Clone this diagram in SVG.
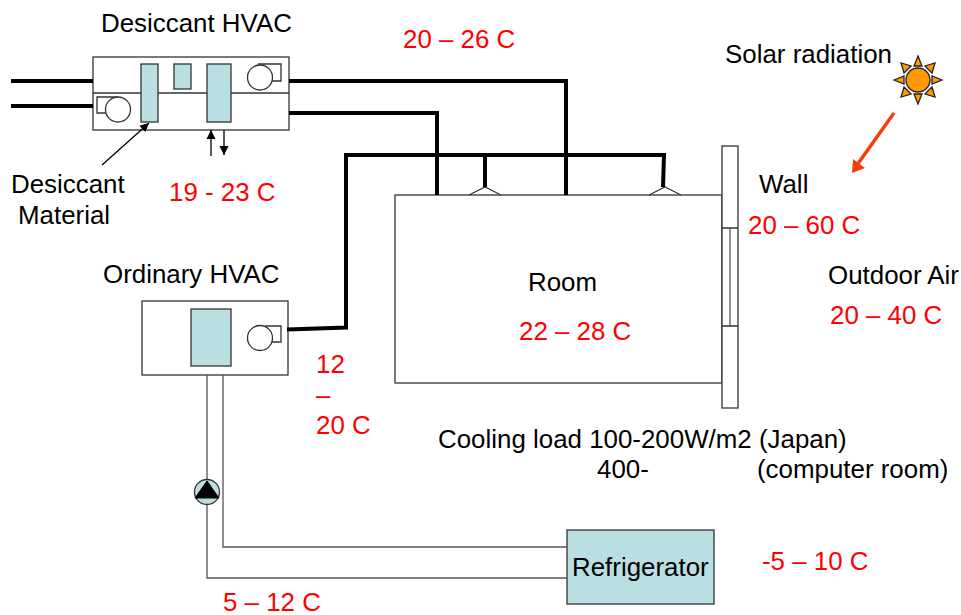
<svg xmlns="http://www.w3.org/2000/svg" width="961" height="615" viewBox="0 0 961 615">
<defs>
<marker id="ah" markerWidth="10" markerHeight="10" refX="9" refY="5" orient="auto" markerUnits="userSpaceOnUse"><path d="M0,0.500L9,5L0,9.500Z" fill="#000"/></marker>
</defs>
<style>
text{font-family:"Liberation Sans",Arial,sans-serif;font-size:25.900px;fill:#000}
.r{fill:#f00}
.b{fill:#fff;stroke:#333;stroke-width:1.300}
.c{fill:#b9dfe2;stroke:#333;stroke-width:1.300}
.t{fill:none;stroke:#333;stroke-width:1.300}
.p{fill:none;stroke:#000;stroke-width:4}
.k{fill:none;stroke:#555;stroke-width:1.300}
.a{fill:none;stroke:#000;stroke-width:1.300}
</style>
<rect width="961" height="615" fill="#fff"/>
<g id="room"><rect class="b" x="395" y="195" width="327" height="188"/>
<path class="t" d="M469,195L485,187L501,195M649,195L665,187L681,195"/></g>
<g id="wall"><rect class="b" x="722" y="146" width="16" height="262"/><path class="t" d="M722,228H738M722,326H738"/><path class="k" d="M730,228V326"/></g>
<g id="desiccant-hvac">
<rect class="b" x="93" y="57" width="196" height="73"/>
<path class="t" d="M93,93H289"/>
<rect class="c" x="141" y="64" width="17" height="58"/>
<rect class="c" x="174" y="64" width="17" height="25"/>
<rect class="c" x="207" y="64" width="24" height="58"/>
<path class="t" d="M258,64H281V81H270"/><circle class="b" cx="260" cy="77.500" r="12.500"/>
<path class="t" d="M118,97H97V113H106"/><circle class="b" cx="118" cy="109.500" r="12.500"/>
</g>
<g id="ordinary-hvac">
<rect class="b" x="142" y="301" width="146" height="74"/>
<rect class="c" x="191" y="309" width="40" height="57"/>
<path class="t" d="M265,326H281V342H272"/><circle class="b" cx="260" cy="338" r="12.500"/>
</g>
<g id="refrigerator"><rect class="c" x="567" y="530" width="147" height="74"/><text x="572" y="576">Refrigerator</text></g>
<g id="connectors">
<path class="p" d="M11,81H93M11,106H93M289,81H566V195M289,113H437V195M287,329.500L346,327.500V155H664L663,187M485,155V187"/>
<path class="k" d="M207,375V578H567M223,375V547H567"/>
<path class="a" d="M102,165L149,123" marker-end="url(#ah)"/>
<path class="a" d="M211,156V130" marker-end="url(#ah)"/>
<path class="a" d="M224,130V155" marker-end="url(#ah)"/>
<path d="M894,113L857,165" stroke="#f04010" stroke-width="3.500" fill="none"/>
<path d="M852,173L853,159L865,168Z" fill="#f04010"/>
</g>
<g id="pump"><circle cx="207" cy="492" r="12.500" fill="#b9dfe2" stroke="#333" stroke-width="1.300"/><path d="M207,481L195,498H219Z" fill="#000" stroke="#000"/></g>
<g id="sun" fill="#f90" stroke="#222" stroke-width="1.300">
<circle cx="918" cy="80" r="12"/>
<path d="M918,56L914,66H922ZM918,104L914,94H922ZM894,80L904,76V84ZM942,80L932,76V84ZM901,63L904,73L911,66ZM935,63L932,73L925,66ZM901,97L904,87L911,94ZM935,97L932,87L925,94Z"/>
</g>
<g id="labels">
<text x="101" y="32">Desiccant HVAC</text>
<text x="403" y="48" class="r">20 – 26 C</text>
<text x="725" y="63">Solar radiation</text>
<text x="11" y="193">Desiccant</text>
<text x="18" y="224">Material</text>
<text x="169" y="201" class="r">19 - 23 C</text>
<text x="759" y="193">Wall</text>
<text x="748" y="234" class="r">20 – 60 C</text>
<text x="103" y="283">Ordinary HVAC</text>
<text x="528" y="291">Room</text>
<text x="828" y="284">Outdoor Air</text>
<text x="830" y="324" class="r">20 – 40 C</text>
<text x="519" y="340" class="r">22 – 28 C</text>
<text x="316" y="373" class="r">12</text>
<text x="316" y="404" class="r">–</text>
<text x="316" y="434" class="r">20 C</text>
<text x="438" y="448">Cooling load 100-200W/m2 (Japan)</text>
<text x="597" y="478">400-</text>
<text x="757" y="478">(computer room)</text>
<text x="762" y="570" class="r">-5 – 10 C</text>
<text x="223" y="611" class="r">5 – 12 C</text>
</g>
</svg>
